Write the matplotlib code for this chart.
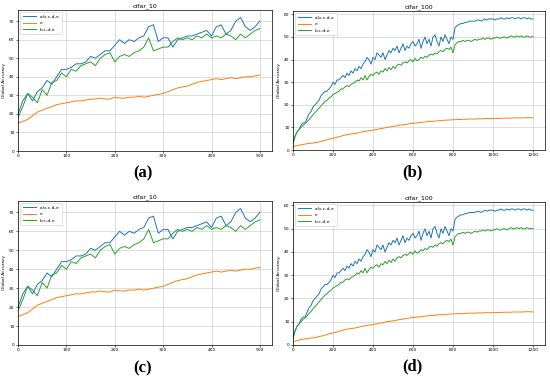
import matplotlib
matplotlib.use("Agg")
import matplotlib.pyplot as plt
import numpy as np

# cifar_10 rounds (every 10)
c10_rounds = list(range(0, 501, 10))
c10_all = [20, 27, 31, 27, 32, 34, 38, 36, 40, 44,
           44, 45, 47, 47, 48, 51, 50, 52, 54, 54,
           57, 60, 58, 60, 59, 61, 62, 67, 68, 59,
           61, 61, 56, 60, 61, 62, 62, 63, 64, 65,
           62, 67, 68, 63, 65, 70, 72, 67, 65, 67,
           70]
c10_e = [15, 16, 17, 19, 21, 22, 23, 24, 25, 25.5,
         26, 26.5, 27, 27, 27.5, 28, 28, 28.5, 28, 28,
         29, 28.5, 28.5, 29, 29, 29.5, 29, 29.5, 30, 30.5,
         31, 32, 33, 34, 34.5, 35, 36, 37, 37.5, 38,
         38.5, 39, 38.5, 39, 39.5, 39, 39.5, 40, 40, 40.5,
         41]
c10_bcde = [18, 24, 31, 29, 26, 33, 30, 37, 38, 42,
            40, 44, 43, 46, 47, 48, 46, 50, 52, 53,
            48, 51, 52, 51, 53, 54, 56, 61, 54, 55,
            56, 56, 59, 61, 60, 61, 60, 62, 61, 63,
            61, 62, 61, 63, 62, 60, 63, 61, 63, 65,
            66]

# cifar_100 rounds (every 10)
c100_rounds = list(range(0, 1201, 10))
c100_all = [3, 6, 8, 9, 11, 12, 12, 14, 16, 17,
            19, 20, 21, 22, 24, 25, 26, 26, 27, 28,
            30, 29, 31, 31, 32, 33, 32, 34, 33, 35,
            34, 36, 35, 37, 36, 38, 39, 41, 40, 38,
            41, 40, 43, 42, 41, 43, 40, 42, 44, 43,
            45, 44, 46, 43, 45, 47, 44, 46, 45, 47,
            48, 46, 47, 49, 45, 48, 50, 47, 49, 46,
            50, 51, 48, 46, 50, 48, 51, 49, 47, 50,
            49, 54, 55, 55.5, 56, 56, 56.5, 56.5, 57, 57,
            57, 57, 57.5, 57.5, 57, 57.5, 58, 57.5, 58, 58,
            58, 57.5, 58, 58, 58.5, 58, 58, 58.5, 58, 58.5,
            58.5, 58, 58.5, 58.5, 58, 58.5, 58.5, 58, 58.5, 58,
            58]
c100_e = [1.5, 1.7, 1.9, 2.1, 2.3, 2.5, 2.6, 2.8, 2.9, 3.0,
          3.1, 3.2, 3.4, 3.6, 3.8, 4.0, 4.3, 4.5, 4.8, 5.0,
          5.2, 5.4, 5.6, 5.9, 6.1, 6.4, 6.6, 6.8, 7.0, 7.1,
          7.2, 7.3, 7.5, 7.7, 7.9, 8.1, 8.2, 8.4, 8.6, 8.7,
          8.8, 9.0, 9.1, 9.3, 9.5, 9.6, 9.8, 10.0, 10.1, 10.3,
          10.4, 10.6, 10.7, 10.9, 11.0, 11.2, 11.3, 11.4, 11.6, 11.7,
          11.8, 11.9, 12.0, 12.1, 12.2, 12.3, 12.4, 12.5, 12.6, 12.7,
          12.7, 12.8, 12.9, 13.0, 13.0, 13.1, 13.2, 13.2, 13.3, 13.3,
          13.4, 13.4, 13.5, 13.5, 13.5, 13.6, 13.6, 13.6, 13.7, 13.7,
          13.7, 13.7, 13.8, 13.8, 13.8, 13.8, 13.9, 13.9, 13.9, 13.9,
          13.9, 14.0, 14.0, 14.0, 14.0, 14.1, 14.1, 14.1, 14.1, 14.1,
          14.2, 14.2, 14.2, 14.2, 14.2, 14.2, 14.3, 14.3, 14.3, 14.3,
          14.2]
c100_bcde = [3, 6, 8, 9, 10, 11, 11.5, 12.5, 13.5, 14.5,
             15.5, 16.5, 17.5, 18.5, 19.5, 20.5, 21.5, 22, 23, 23.5,
             24.5, 25, 25.5, 26, 27, 27, 28, 28.5, 28, 29,
             29.5, 30, 31, 30.5, 32, 31, 33, 31, 32.5, 33.5,
             33, 34, 34.5, 33.5, 35, 34.5, 36, 35, 36.5, 35.5,
             37, 36, 37.5, 38, 37.5, 38.5, 39, 38.5, 39.5, 40,
             39, 40.5, 39.5, 40, 41, 40.5, 41.5, 41, 42, 42.5,
             42, 43, 42.5, 43.5, 44, 43.5, 44.5, 45, 44.5, 45.5,
             43, 46.5, 47.5, 48, 48, 48.5, 48, 48.5, 48.5, 48,
             48.5, 49, 48.5, 49, 49, 49.5, 49, 49.5, 49.5, 49,
             49.5, 49.5, 50, 49.5, 49.5, 50, 50, 49.5, 50, 50.5,
             50, 50, 50.5, 50, 50.5, 50, 50, 50.5, 50, 50,
             50.2]

labels = ["a-b-c-d-e", "e", "b-c-d-e"]
panel_names = ["(a)", "(b)", "(c)", "(d)"]

fig = plt.figure(figsize=(5.5, 3.76), dpi=100)
W, H = 550.0, 376.0

# left, top, right, bottom in pixels
boxes = [(18, 10, 272, 151), (293, 11, 545, 150),
         (18, 201, 272, 345), (293, 202, 545, 345)]
label_pos = [(143, 173), (412, 172), (143, 368), (412, 366)]

for i, (l, t, r, b) in enumerate(boxes):
    ax = fig.add_axes([l / W, 1 - b / H, (r - l) / W, (b - t) / H])
    if i % 2 == 0:
        x = c10_rounds
        series = [c10_all, c10_e, c10_bcde]
        title = "cifar_10"
        xmax, ymax = 525, 76
        yt = range(0, 71, 10)
        xt = range(0, 501, 100)
    else:
        x = c100_rounds
        series = [c100_all, c100_e, c100_bcde]
        title = "cifar_100"
        xmax, ymax = 1260, 61.5
        yt = range(0, 61, 10)
        xt = range(0, 1201, 200)
    for s, lab in zip(series, labels):
        ax.plot(x, s, label=lab, linewidth=0.7)
    ax.set_xlim(0, xmax)
    ax.set_ylim(0, ymax)
    ax.set_xticks(list(xt))
    ax.set_yticks(list(yt))
    ax.grid(True, color="#d0d0d0", linewidth=0.5)
    ax.tick_params(labelsize=3.2, length=1.5, width=0.4, pad=1)
    for sp in ax.spines.values():
        sp.set_linewidth(0.5)
    ax.set_title(title, fontsize=4.5, pad=2)
    ax.set_ylabel("Global Accuracy", fontsize=3.2, labelpad=2)
    ax.legend(loc="upper left", fontsize=3.2, frameon=True, handlelength=3,
              borderpad=0.6, labelspacing=0.5, framealpha=1,
              edgecolor="#cccccc").get_frame().set_linewidth(0.4)
    fig.text(label_pos[i][0] / W, 1 - label_pos[i][1] / H, panel_names[i],
             ha="center", va="center", fontsize=12, fontweight="bold",
             family="Liberation Serif")

fig.savefig("out.png", dpi=100)
